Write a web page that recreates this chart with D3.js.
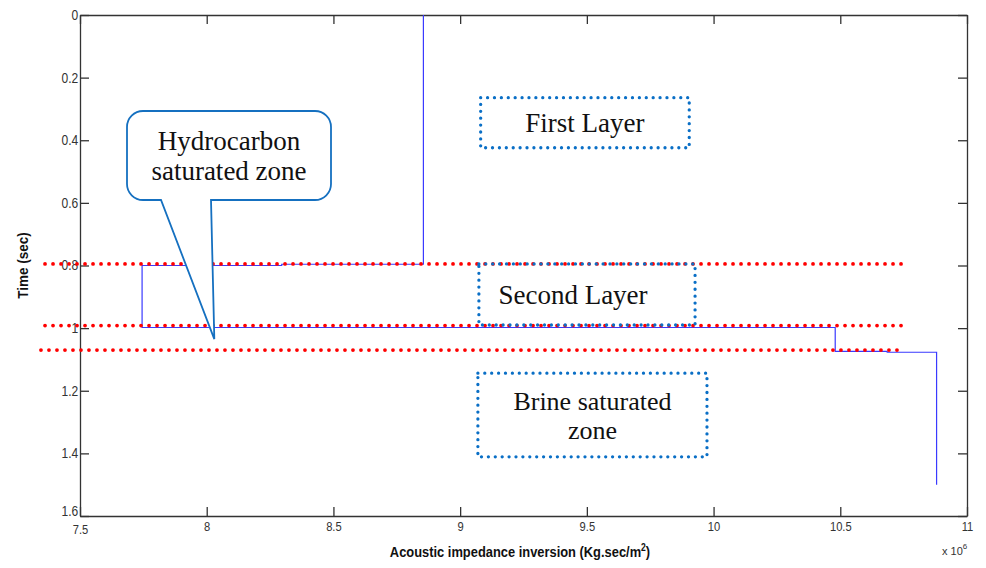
<!DOCTYPE html>
<html>
<head>
<meta charset="utf-8">
<script src="https://cdn.jsdelivr.net/npm/d3@7/dist/d3.min.js"></script>
<style>
  html, body { margin: 0; padding: 0; background: #fff; }
  svg { display: block; }
  .tick text { font-family: "Liberation Sans Narrow", "Arial Narrow", "Liberation Sans", sans-serif; fill: #333; }
  .serif { font-family: "Liberation Serif", "Times New Roman", serif; fill: #111; }
</style>
</head>
<body>
<svg id="chart" width="986" height="568"></svg>
<script>
// Axis ticks
const impedanceTicks = [7.5, 8, 8.5, 9, 9.5, 10, 10.5, 11];
const impedanceTickLabels = ["7.5", "8", "8.5", "9", "9.5", "10", "10.5", "11"];
const timeTicks = [0, 0.2, 0.4, 0.6, 0.8, 1.0, 1.2, 1.4, 1.6];
const timeTickLabels = ["0", "0.2", "0.4", "0.6", "0.8", "1", "1.2", "1.4", "1.6"];

// Inverted acoustic impedance profile (x 10^6 Kg.sec/m^2) as a step trace against time (sec)
const profileImpedance = [8.855, 8.855, 8.296, 8.296, 7.745, 7.745, 10.48, 10.48, 10.685, 10.685, 10.88, 10.88];
const profileTime      = [0.0,   0.796, 0.796, 0.800, 0.800, 0.998, 0.998, 1.074, 1.074, 1.077, 1.077, 1.50];

// Interpreted layer boundaries (time, and impedance span of the dotted marker)
const boundaryTime  = [0.795, 0.992, 1.070];
const boundaryStart = [7.362, 7.362, 7.346];
const boundaryEnd   = [10.744, 10.744, 10.752];

// Zone annotations: label lines and box extents in data units
const zoneLines = [["First Layer"], ["Second Layer"], ["Brine saturated", "zone"]];
const zoneX0 = [9.081, 9.074, 9.070];
const zoneX1 = [9.904, 9.927, 9.974];
const zoneT0 = [0.264, 0.795, 1.144];
const zoneT1 = [0.424, 0.990, 1.411];

const W = 986, H = 568;
const margin = { left: 80, right: 19, top: 15, bottom: 52 };
const svg = d3.select("#chart");

const x = d3.scaleLinear().domain([7.5, 11]).range([margin.left, W - margin.right]);
const y = d3.scaleLinear().domain([0, 1.6]).range([margin.top, H - margin.bottom]);

const axisColor = "#333";
const tickLen = 9;
const narrow = "'Liberation Sans Narrow', 'Arial Narrow', 'Liberation Sans', sans-serif";

// Plot frame with inward ticks on all four sides
const gBottom = svg.append("g").attr("transform", `translate(0,${y(1.6)})`)
  .call(d3.axisBottom(x).tickValues(impedanceTicks)
    .tickFormat((d, i) => impedanceTickLabels[i]).tickSizeInner(-tickLen).tickSizeOuter(0).tickPadding(6));
gBottom.selectAll(".tick text").attr("font-size", 13).attr("transform", "scale(0.86,1)");

const gTop = svg.append("g").attr("transform", `translate(0,${y(0)})`)
  .call(d3.axisTop(x).tickValues(impedanceTicks).tickFormat("").tickSizeInner(-tickLen).tickSizeOuter(0));

const gLeft = svg.append("g").attr("transform", `translate(${x(7.5)},0)`)
  .call(d3.axisLeft(y).tickValues(timeTicks)
    .tickFormat((d, i) => timeTickLabels[i]).tickSizeInner(-tickLen).tickSizeOuter(0).tickPadding(2));
gLeft.selectAll(".tick text").attr("font-size", 14).attr("transform", "scale(0.86,1)");

const gRight = svg.append("g").attr("transform", `translate(${x(11)},0)`)
  .call(d3.axisRight(y).tickValues(timeTicks).tickFormat("").tickSizeInner(-tickLen).tickSizeOuter(0));

[gBottom, gTop, gLeft, gRight].forEach(g => {
  g.select(".domain").attr("stroke", axisColor).attr("stroke-width", 1.3);
  g.selectAll(".tick line").attr("stroke", axisColor).attr("stroke-width", 1.3);
});
// first/last labels sit slightly offset like the original layout
gLeft.selectAll(".tick text").filter((d) => d === 1.6).attr("dy", "-0.05em");
gBottom.selectAll(".tick text").filter((d) => d === 7.5).attr("dy", "0.9em");

// Axis titles (condensed horizontally)
svg.append("text")
  .attr("transform", "translate(520,557) scale(0.86,1)")
  .attr("text-anchor", "middle")
  .attr("font-family", narrow)
  .attr("font-weight", "bold").attr("font-size", 15).attr("fill", "#111")
  .call(t => {
    t.append("tspan").text("Acoustic impedance inversion (Kg.sec/m");
    t.append("tspan").attr("font-size", 10).attr("dy", -6).text("2");
    t.append("tspan").attr("dy", 6).text(")");
  });

svg.append("text")
  .attr("transform", `translate(28,${(y(0) + y(1.6)) / 2}) rotate(-90) scale(0.9,1)`)
  .attr("text-anchor", "middle")
  .attr("font-family", narrow)
  .attr("font-weight", "bold").attr("font-size", 15).attr("fill", "#111")
  .text("Time (sec)");

// Exponent marker
svg.append("text")
  .attr("x", 942).attr("y", 555)
  .attr("font-family", narrow)
  .attr("font-size", 11).attr("fill", "#333")
  .call(t => {
    t.append("tspan").text("x 10");
    t.append("tspan").attr("font-size", 8).attr("dy", -6).text("6");
  });

// Impedance step trace
const profile = profileImpedance.map((v, i) => ({ z: v, t: profileTime[i] }));
svg.append("path")
  .datum(profile)
  .attr("fill", "none")
  .attr("stroke", "#3a3aff")
  .attr("stroke-width", 1.2)
  .attr("d", d3.line().x(d => x(d.z)).y(d => y(d.t)));

// Red dotted boundary markers
svg.append("g").selectAll("line")
  .data(boundaryTime)
  .join("line")
  .attr("x1", (d, i) => x(boundaryStart[i]))
  .attr("x2", (d, i) => x(boundaryEnd[i]))
  .attr("y1", d => y(d)).attr("y2", d => y(d))
  .attr("stroke", "#ff0000")
  .attr("stroke-width", 3.8)
  .attr("stroke-linecap", "round")
  .attr("stroke-dasharray", "0 8");

// Zone boxes with blue dotted outlines
const zones = zoneLines.map((lines, i) => ({ lines, x0: zoneX0[i], x1: zoneX1[i], t0: zoneT0[i], t1: zoneT1[i] }));
const zg = svg.append("g").selectAll("g").data(zones).join("g");
zg.append("rect")
  .attr("x", d => x(d.x0)).attr("y", d => y(d.t0))
  .attr("width", d => x(d.x1) - x(d.x0)).attr("height", d => y(d.t1) - y(d.t0))
  .attr("fill", "none")
  .attr("stroke", "#0a6fc6")
  .attr("stroke-width", 3.3)
  .attr("stroke-linecap", "round")
  .attr("stroke-dasharray", "0 6.9");
zg.each(function (d) {
  const g = d3.select(this);
  const cx = (x(d.x0) + x(d.x1)) / 2;
  const cy = (y(d.t0) + y(d.t1)) / 2;
  const n = d.lines.length;
  const fs = n === 1 ? 27 : 26;
  const lh = 29;
  d.lines.forEach((s, k) => {
    g.append("text").attr("class", "serif")
      .attr("x", cx)
      .attr("y", cy + (k - (n - 1) / 2) * lh)
      .attr("dy", "0.35em")
      .attr("text-anchor", "middle")
      .attr("font-size", fs)
      .text(s);
  });
});
// second layer label sits left of its box centre
zg.filter((d, i) => i === 1).select("text").attr("x", 573);

// Speech-bubble callout for the hydrocarbon zone
const bx0 = 127, by0 = 111, bx1 = 331, by1 = 200, r = 16;
const tailA = 161, tailB = 211;
const tip = [x(8.03), y(1.035)];
const bubble = d3.path();
bubble.moveTo(bx0 + r, by0);
bubble.lineTo(bx1 - r, by0);
bubble.arcTo(bx1, by0, bx1, by0 + r, r);
bubble.lineTo(bx1, by1 - r);
bubble.arcTo(bx1, by1, bx1 - r, by1, r);
bubble.lineTo(tailB, by1);
bubble.lineTo(tip[0], tip[1]);
bubble.lineTo(tailA, by1);
bubble.lineTo(bx0 + r, by1);
bubble.arcTo(bx0, by1, bx0, by1 - r, r);
bubble.lineTo(bx0, by0 + r);
bubble.arcTo(bx0, by0, bx0 + r, by0, r);
bubble.closePath();
svg.append("path")
  .attr("d", bubble.toString())
  .attr("fill", "#fff")
  .attr("stroke", "#1570c0")
  .attr("stroke-width", 1.8)
  .attr("stroke-linejoin", "miter");

const calloutLines = ["Hydrocarbon", "saturated zone"];
svg.append("g").selectAll("text").data(calloutLines).join("text")
  .attr("class", "serif")
  .attr("x", 229)
  .attr("y", (d, i) => 150 + i * 30)
  .attr("text-anchor", "middle")
  .attr("font-size", 27)
  .text(d => d);
</script>
</body>
</html>
